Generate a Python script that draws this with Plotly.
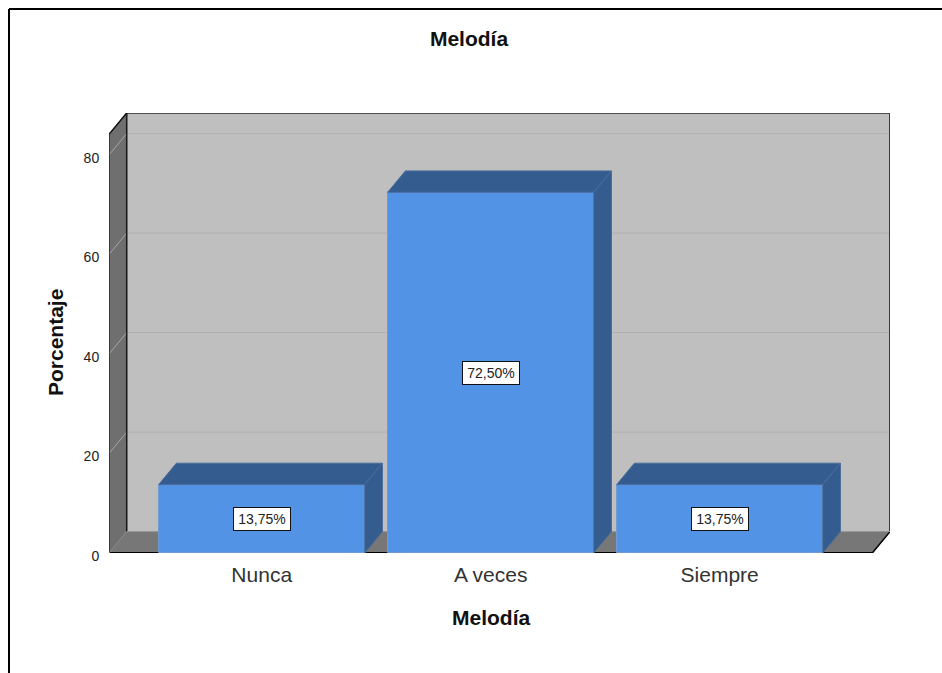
import plotly.graph_objects as go

# --- data ---
title_text = "Melodía"
x_title = "Melodía"
y_title = "Porcentaje"
categories = ["Nunca", "A veces", "Siempre"]
percent = [13.75, 72.50, 13.75]
y_ticks = [0, 20, 40, 60, 80]

# --- colours ---
FRONT = "#5393e5"
SIDE = "#345c8f"
WALL = "#bfbfbf"
SIDE_WALL = "#6f6f6f"
FLOOR = "#777777"
GRID = "#b0b0b0"
SIDE_GRID = "#a6a6a6"
FONT = "Liberation Sans, Arial, sans-serif"

# --- chart box, in axis units ---
X_MIN, X_MAX = -0.6668, 2.7437
Y_MAX = 88.44
DX, DY = 0.0773, 4.3       # depth of the 3-D box
FRONT_R = X_MAX - DX
FRONT_T = Y_MAX - DY
BACK_L = X_MIN + DX
BAR_W = 0.9
positions = list(range(len(categories)))

fig = go.Figure()


def poly(xs, ys, color, line_color=None, lw=1):
    return dict(type="path",
                path="M " + " L ".join(f"{a},{b}" for a, b in zip(xs, ys)) + " Z",
                xref="x", yref="y", fillcolor=color, layer="below",
                line=dict(color=line_color or color, width=lw))


def seg(x0, y0, x1, y1, color, lw=1):
    return dict(type="line", x0=x0, y0=y0, x1=x1, y1=y1, xref="x", yref="y",
                line=dict(color=color, width=lw), layer="below")


shapes = [
    poly([BACK_L, X_MAX, X_MAX, BACK_L], [DY, DY, Y_MAX, Y_MAX], WALL),
    poly([X_MIN, BACK_L, BACK_L, X_MIN], [FRONT_T, Y_MAX, DY, 0], SIDE_WALL),
    poly([X_MIN, FRONT_R, X_MAX, BACK_L], [0, 0, DY, DY], FLOOR),
]
for t in y_ticks[1:]:
    shapes.append(seg(BACK_L, t + DY, X_MAX, t + DY, GRID, 1))
    shapes.append(seg(X_MIN, t, BACK_L, t + DY, SIDE_GRID, 1))
shapes += [
    seg(BACK_L, Y_MAX, X_MAX, Y_MAX, "#2a2a2a", 1.5),
    seg(X_MAX, Y_MAX, X_MAX, DY, "#3a3a3a", 2),
    seg(BACK_L, Y_MAX, BACK_L, DY, "#1a1a1a", 1.5),
    seg(X_MIN, FRONT_T, X_MIN, 0, "#2a2a2a", 1.5),
    seg(X_MIN, FRONT_T, BACK_L, Y_MAX, "#111111", 1.5),
    seg(X_MIN, 0, FRONT_R, 0, "#000000", 2),
    seg(FRONT_R, 0, X_MAX, DY, "#000000", 1.5),
    seg(BACK_L, DY, X_MAX, DY, "#9a9a9a", 1),
    seg(X_MIN, 0, BACK_L, DY, "#8a8a8a", 1),
]

# outer picture frame, running off the right and bottom of the page
px_l = (9 - 109) / 781
py_t = (553 - 9) / 440
shapes.append(dict(type="line", xref="paper", yref="paper", x0=px_l, x1=1.2, y0=py_t, y1=py_t,
                   line=dict(color="#000000", width=2)))
shapes.append(dict(type="line", xref="paper", yref="paper", x0=px_l, x1=px_l, y0=py_t, y1=-0.4,
                   line=dict(color="#000000", width=2)))

# front faces
fig.add_trace(go.Bar(x=positions, y=percent, width=BAR_W,
                     marker=dict(color=FRONT, line=dict(color="#6f9bd0", width=1)),
                     hoverinfo="skip", showlegend=False))

# top and side faces
for p, v in zip(positions, percent):
    l, r = p - BAR_W / 2, p + BAR_W / 2
    fig.add_trace(go.Scatter(x=[l, r, r + DX, l + DX, l], y=[v, v, v + DY, v + DY, v], mode="lines",
                             fill="toself", fillcolor=SIDE, line=dict(color="#4a6d9c", width=1),
                             hoverinfo="skip", showlegend=False))
    fig.add_trace(go.Scatter(x=[r, r + DX, r + DX, r, r], y=[0, DY, v + DY, v, 0], mode="lines",
                             fill="toself", fillcolor=SIDE, line=dict(color="#4a6d9c", width=1),
                             hoverinfo="skip", showlegend=False))

annotations = [
    dict(x=p, y=v / 2, xref="x", yref="y", showarrow=False,
         text=f"{v:.2f}".replace(".", ",") + "%",
         font=dict(family=FONT, size=14, color="#222222"), width=52, height=18,
         bgcolor="#ffffff", bordercolor="#111111", borderwidth=1, borderpad=2)
    for p, v in zip(positions, percent)
]
TITLE_FONT = dict(family=FONT, size=21, color="#111111")
# axis titles sit off-centre in the reference, so they are placed individually
annotations.append(dict(text=f"<b>{x_title}</b>", x=(491 - 109) / 781, y=(553 - 617) / 440,
                        xref="paper", yref="paper", showarrow=False, font=TITLE_FONT,
                        xanchor="center", yanchor="middle"))
annotations.append(dict(text=f"<b>{y_title}</b>", x=(55 - 109) / 781, y=(553 - 343) / 440,
                        xref="paper", yref="paper", showarrow=False, font=TITLE_FONT, textangle=-90,
                        xanchor="center", yanchor="middle"))

fig.update_layout(
    width=942, height=673, autosize=False,
    margin=dict(l=109, r=52, t=113, b=120, pad=0),
    paper_bgcolor="#ffffff", plot_bgcolor="#ffffff",
    showlegend=False, bargap=0,
    title=dict(text=f"<b>{title_text}</b>", x=469 / 942, xanchor="center", y=1 - 39 / 673, yanchor="middle",
               font=TITLE_FONT),
    shapes=shapes, annotations=annotations,
    xaxis=dict(range=[X_MIN, X_MAX], tickmode="array", tickvals=positions, ticktext=categories,
               showgrid=False, zeroline=False, showline=False, ticks="outside", ticklen=3,
               tickcolor="rgba(0,0,0,0)", tickfont=dict(family=FONT, size=21, color="#333333")),
    yaxis=dict(range=[0, Y_MAX], tickmode="array", tickvals=y_ticks, ticklabelshift=3,
               showgrid=False, zeroline=False, showline=False, ticks="outside", ticklen=6,
               tickcolor="rgba(0,0,0,0)", tickfont=dict(family=FONT, size=14, color="#222222")),
)

fig.write_html("out.html", config={"displayModeBar": False},
               post_script="document.body.style.margin='0';")
